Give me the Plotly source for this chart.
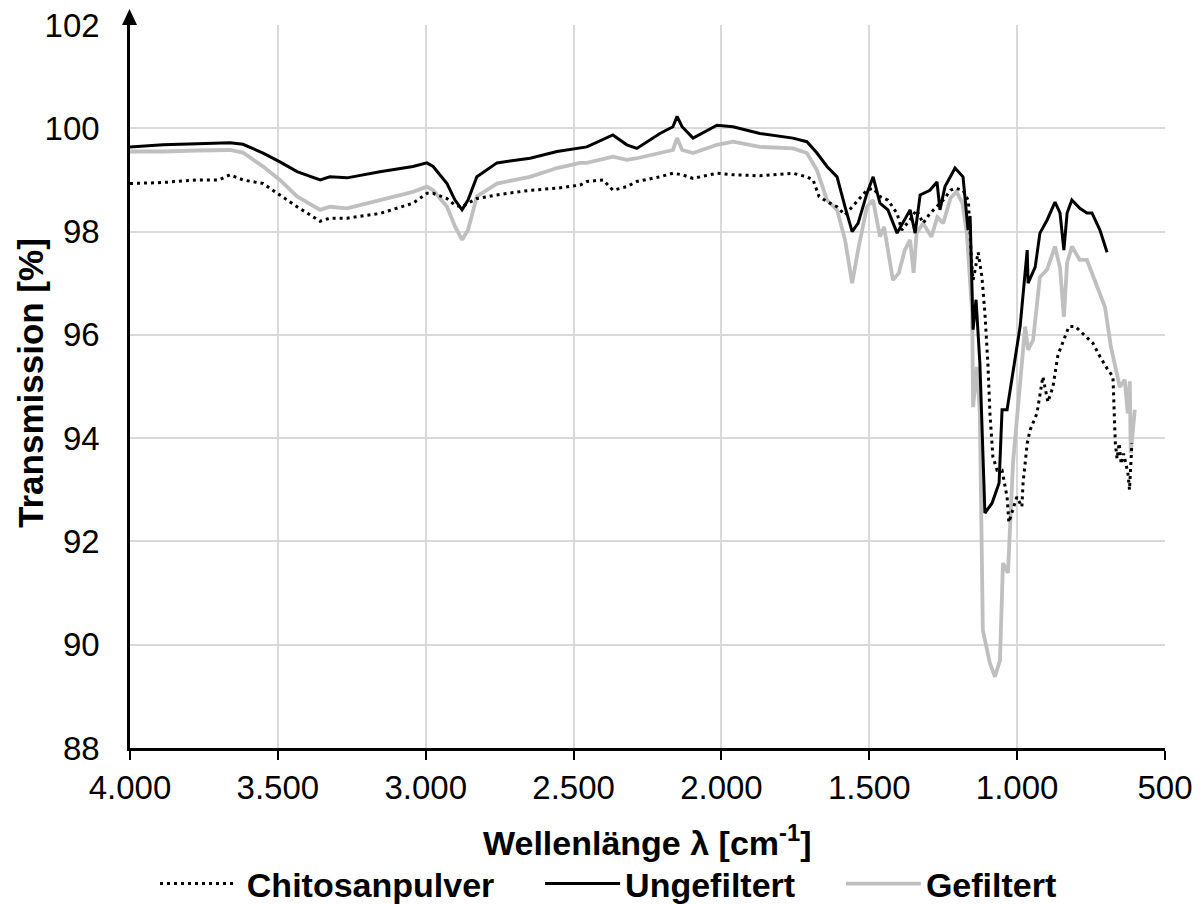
import plotly.graph_objects as go

# ---------------- data ----------------
wn_chitosan = [4000, 3888, 3773, 3700, 3662, 3618, 3550, 3493, 3435, 3357, 3324, 3266,
               3155, 3043, 2996, 2975, 2928, 2901, 2877, 2857, 2827, 2759, 2647, 2556,
               2478, 2455, 2400, 2367, 2320, 2286, 2208, 2164, 2133, 2096, 2015, 1961,
               1870, 1758, 1711, 1690, 1670, 1643, 1609, 1582, 1558, 1538, 1508, 1487,
               1464, 1437, 1406, 1390, 1362, 1340, 1318, 1295, 1271, 1250, 1225, 1210,
               1183, 1165, 1155, 1149, 1142, 1132, 1119, 1109, 1099, 1092, 1082, 1068,
               1051, 1034, 1028, 1001, 984, 980, 966, 956, 933, 923, 913, 896, 879, 862,
               825, 803, 764, 744, 720, 693, 676, 672, 668, 662, 655, 648, 640, 632, 625,
               620, 615, 612]
t_chitosan = [98.93, 98.95, 99.00, 99.00, 99.10, 99.00, 98.93, 98.71, 98.48, 98.20, 98.26, 98.26,
              98.35, 98.55, 98.74, 98.74, 98.64, 98.51, 98.48, 98.55, 98.64, 98.71, 98.80, 98.84,
              98.90, 98.97, 99.00, 98.80, 98.87, 98.97, 99.06, 99.13, 99.10, 99.03, 99.13, 99.10,
              99.08, 99.13, 99.06, 99.00, 98.68, 98.58, 98.48, 98.32, 98.48, 98.61, 98.80, 98.84,
              98.68, 98.61, 98.35, 98.03, 98.23, 98.42, 98.16, 98.35, 98.48, 98.61, 98.80, 98.84,
              98.80, 98.60, 97.50, 97.06, 97.26, 97.60, 97.12, 96.42, 95.45, 94.48, 93.64, 93.38,
              93.38, 92.86, 92.37, 92.86, 92.67, 93.13, 93.90, 94.16, 94.48, 94.87, 95.19, 94.70,
              94.99, 95.61, 96.16, 96.16, 95.96, 95.84, 95.58, 95.32, 95.19, 94.60, 93.90, 93.60,
              93.90, 93.50, 93.70, 93.50, 93.30, 93.00, 93.60, 93.90]

wn_ungefiltert = [4000, 3888, 3773, 3662, 3618, 3550, 3493, 3435, 3357, 3324, 3266, 3155,
                  3043, 2996, 2975, 2928, 2901, 2877, 2857, 2827, 2759, 2647, 2556, 2478,
                  2455, 2367, 2320, 2286, 2208, 2164, 2150, 2133, 2096, 2015, 1961, 1870,
                  1758, 1711, 1677, 1643, 1609, 1582, 1558, 1538, 1508, 1487, 1464, 1437,
                  1406, 1362, 1345, 1328, 1295, 1271, 1261, 1244, 1210, 1183, 1166, 1159,
                  1149, 1139, 1126, 1109, 1085, 1061, 1051, 1034, 990, 966, 963, 939, 923,
                  899, 872, 855, 842, 831, 815, 788, 764, 747, 720, 696]
t_ungefiltert = [99.64, 99.68, 99.70, 99.72, 99.69, 99.52, 99.35, 99.16, 99.00, 99.06, 99.04, 99.16,
                 99.26, 99.33, 99.26, 98.93, 98.61, 98.42, 98.61, 99.06, 99.33, 99.42, 99.55, 99.62,
                 99.64, 99.87, 99.68, 99.61, 99.90, 100.03, 100.23, 100.03, 99.81, 100.06, 100.03, 99.90,
                 99.81, 99.74, 99.52, 99.26, 99.06, 98.48, 98.00, 98.16, 98.74, 99.06, 98.55, 98.42,
                 97.97, 98.42, 97.97, 98.71, 98.80, 98.96, 98.42, 98.87, 99.23, 99.06, 98.03, 98.30,
                 96.10, 96.68, 95.45, 92.55, 92.74, 93.13, 94.55, 94.55, 96.16, 97.64, 97.00, 97.31,
                 97.97, 98.22, 98.57, 98.36, 97.64, 98.36, 98.61, 98.45, 98.36, 98.36, 98.03, 97.60]

wn_gefiltert = [4000, 3888, 3773, 3662, 3618, 3550, 3493, 3435, 3357, 3324, 3266, 3155,
                3043, 2996, 2975, 2928, 2901, 2877, 2857, 2827, 2759, 2647, 2556, 2478,
                2455, 2367, 2320, 2286, 2208, 2164, 2150, 2133, 2096, 2015, 1961, 1870,
                1758, 1711, 1677, 1643, 1609, 1582, 1558, 1538, 1508, 1487, 1464, 1450,
                1420, 1400, 1380, 1362, 1350, 1340, 1318, 1290, 1270, 1250, 1225, 1205,
                1185, 1170, 1152, 1149, 1136, 1126, 1116, 1092, 1075, 1058, 1048, 1031,
                1014, 990, 973, 963, 946, 923, 899, 872, 855, 842, 831, 815, 788, 764,
                737, 703, 683, 653, 636, 626, 619, 616, 602]
t_gefiltert = [99.55, 99.55, 99.57, 99.58, 99.53, 99.26, 99.00, 98.68, 98.42, 98.48, 98.45, 98.61,
               98.77, 98.87, 98.80, 98.48, 98.10, 97.84, 98.03, 98.68, 98.93, 99.06, 99.23, 99.33,
               99.33, 99.45, 99.39, 99.42, 99.52, 99.58, 99.81, 99.58, 99.52, 99.68, 99.74, 99.64,
               99.61, 99.52, 99.19, 98.61, 98.42, 97.84, 97.00, 97.64, 98.48, 98.61, 97.90, 98.09,
               97.06, 97.20, 97.64, 97.84, 97.20, 97.97, 98.16, 97.90, 98.28, 98.16, 98.65, 98.77,
               98.55, 97.97, 96.42, 94.60, 95.38, 94.48, 90.28, 89.64, 89.38, 89.70, 91.58, 91.39,
               93.52, 94.99, 96.16, 95.71, 95.90, 97.12, 97.26, 97.71, 97.30, 96.35, 97.40, 97.71,
               97.45, 97.45, 97.06, 96.54, 95.77, 94.99, 95.13, 94.48, 95.10, 93.71, 94.55]

x_ticks = [4000, 3500, 3000, 2500, 2000, 1500, 1000, 500]
y_ticks = [88, 90, 92, 94, 96, 98, 100, 102]
series_names = ["Chitosanpulver", "Ungefiltert", "Gefiltert"]

# ---------------- layout constants ----------------
W, H = 1203, 905
ML, MR, MT, MB = 130, 38, 25, 157
PW, PH = W - ML - MR, H - MT - MB
FONT = "Liberation Sans, Arial, sans-serif"
GAP = "\u2003\u2009"


def px_to_paper(px, py):
    return (px - ML) / PW, (H - MB - py) / PH


fig = go.Figure()
fig.add_trace(go.Scatter(x=wn_gefiltert, y=t_gefiltert, mode="lines",
                         name=f"<b>{series_names[2]}</b>", legendrank=3,
                         line=dict(color="#bfbfbf", width=3.8)))
fig.add_trace(go.Scatter(x=wn_ungefiltert, y=t_ungefiltert, mode="lines",
                         name=f"<b>{series_names[1]}</b>{GAP}", legendrank=2,
                         line=dict(color="#000000", width=3)))
fig.add_trace(go.Scatter(x=wn_chitosan, y=t_chitosan, mode="lines",
                         name=f"\u2009<b>{series_names[0]}</b>{GAP}", legendrank=1,
                         line=dict(color="#000000", width=3, dash="3px,4px")))

# y-axis arrow head
tip = px_to_paper(129.5, 9)
bl = px_to_paper(122, 25)
br = px_to_paper(137, 25)
fig.add_shape(type="path", xref="paper", yref="paper",
              path=f"M {tip[0]} {tip[1]} L {bl[0]} {bl[1]} L {br[0]} {br[1]} Z",
              fillcolor="black", line=dict(color="black", width=0))

# axis titles as annotations for exact placement
xt = px_to_paper(647.5, 840)
yt = px_to_paper(30, 383)
fig.add_annotation(text="<b>Wellenlänge λ [cm<sup>-1</sup>]</b>", xref="paper", yref="paper",
                   x=xt[0], y=xt[1], xanchor="center", yanchor="middle", showarrow=False,
                   font=dict(family=FONT, size=34, color="black"))
fig.add_annotation(text="<b>Transmission [%]</b>", xref="paper", yref="paper",
                   x=yt[0], y=yt[1], xanchor="center", yanchor="middle", showarrow=False,
                   textangle=-90, font=dict(family=FONT, size=35, color="black"))

lg = px_to_paper(155, 884)
fig.update_layout(
    width=W, height=H,
    margin=dict(l=ML, r=MR, t=MT, b=MB, autoexpand=False),
    plot_bgcolor="white", paper_bgcolor="white",
    separators=",.",
    font=dict(family=FONT, size=33, color="black"),
    showlegend=True,
    legend=dict(orientation="h", x=lg[0], xanchor="left", y=lg[1], yanchor="middle",
                font=dict(family=FONT, size=34, color="black"),
                itemwidth=75, traceorder="normal", bgcolor="rgba(0,0,0,0)"),
    xaxis=dict(range=[4000, 500], tickvals=x_ticks, tickformat=",d",
               showgrid=True, gridcolor="#d9d9d9", gridwidth=1.5,
               showline=True, linecolor="black", linewidth=2.5,
               ticks="outside", ticklen=9, tickwidth=2, tickcolor="black",
               tickfont=dict(family=FONT, size=33),
               zeroline=False),
    yaxis=dict(range=[88, 102], tickvals=y_ticks,
               showgrid=True, gridcolor="#d9d9d9", gridwidth=1.5,
               showline=True, linecolor="black", linewidth=2.5,
               ticks="", ticklabelstandoff=21,
               tickfont=dict(family=FONT, size=33),
               zeroline=False),
)

fig.write_html("out.html", config={"displayModeBar": False},
               post_script="document.body.style.margin='0';")
